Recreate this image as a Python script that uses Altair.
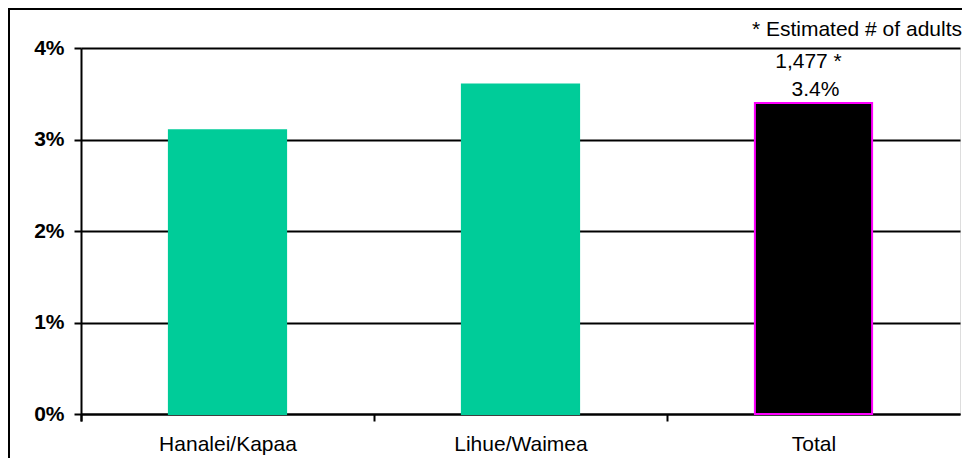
import altair as alt
import pandas as pd

categories = ["Hanalei/Kapaa", "Lihue/Waimea", "Total"]
values = [3.1, 3.6, 3.4]
bar_colors = ["#00CC99", "#00CC99", "#000000"]
border_colors = ["#00CC99", "#00CC99", "#FF00FF"]
label_category = ["Total"]
label_pct = [3.4]
label_pct_text = ["3.4%"]
label_count_text = ["1,477 *"]
note_text = "* Estimated # of adults"
y_ticks = [0, 1, 2, 3, 4]

FONT = "Liberation Sans"
W, H = 879, 366
STEP = W / 3

df = pd.DataFrame({"cat": categories, "val": values,
                   "fill": bar_colors, "stroke": border_colors})
lab = pd.DataFrame({"cat": label_category, "val": label_pct,
                    "pct": label_pct_text, "cnt": label_count_text})

xscale = alt.Scale(domain=categories, paddingInner=0.6, paddingOuter=0.3)
yscale = alt.Scale(domain=[0, 4], nice=False)

xaxis = alt.Axis(title=None, bandPosition=0, tickOffset=-0.3 * STEP, tickExtra=True,
                 labelOffset=0.3 * STEP,
                 domainColor="black", domainWidth=2,
                 tickColor="black", tickWidth=2, tickSize=7, labelFont=FONT,
                 labelFontSize=21, labelColor="black", labelPadding=12,
                 labelAngle=0, grid=False)
yaxis = alt.Axis(title=None, values=y_ticks, labelExpr="datum.value + '%'",
                 domainColor="black", domainWidth=2, tickColor="black",
                 tickWidth=2, tickSize=7, labelFont=FONT, labelFontSize=21,
                 labelFontWeight="bold", labelColor="black", labelPadding=10,
                 grid=True, gridColor="black", gridWidth=2)

base = alt.Chart(df)

frame = alt.Chart(pd.DataFrame({"k": [0]})).mark_rect(
    fill=None, stroke="black", strokeWidth=2
).encode(x=alt.value(-72), x2=alt.value(W + 40), y=alt.value(-39), y2=alt.value(H + 80))

bars = base.mark_bar(strokeWidth=2).encode(
    x=alt.X("cat:N", scale=xscale, axis=xaxis, sort=categories),
    y=alt.Y("val:Q", scale=yscale, axis=yaxis),
    fill=alt.Fill("fill:N", scale=None),
    stroke=alt.Stroke("stroke:N", scale=None),
)

pct_text = alt.Chart(lab).mark_text(font=FONT, fontSize=21, color="black",
                                    baseline="alphabetic", dy=-7, dx=2).encode(
    x=alt.X("cat:N", scale=xscale, sort=categories),
    y=alt.Y("val:Q", scale=yscale),
    text="pct:N",
)
cnt_text = alt.Chart(lab).mark_text(font=FONT, fontSize=21, color="black",
                                    baseline="alphabetic", dy=-35, dx=-5).encode(
    x=alt.X("cat:N", scale=xscale, sort=categories),
    y=alt.Y("val:Q", scale=yscale),
    text="cnt:N",
)
note = alt.Chart(pd.DataFrame({"t": [note_text]})).mark_text(
    font=FONT, fontSize=21, color="black", align="right", baseline="alphabetic"
).encode(x=alt.value(W + 2), y=alt.value(-12), text="t:N")

chart = alt.layer(frame, bars, pct_text, cnt_text, note).properties(
    width=W, height=H,
    autosize=alt.AutoSizeParams(type="none"),
    padding={"left": 73, "top": 40, "right": 2, "bottom": 44},
).configure_view(stroke=None).configure(background="white")

chart.save("out.html", embed_options={"renderer": "svg", "actions": False})
